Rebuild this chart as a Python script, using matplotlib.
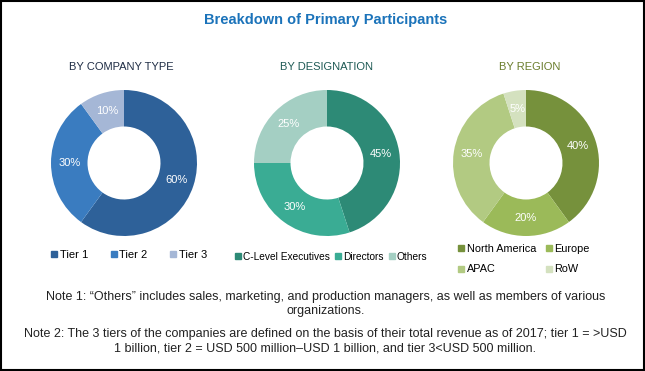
import numpy as np
import matplotlib.pyplot as plt
from matplotlib.lines import Line2D

W, H = 645, 371

# data
company_labels = ['Tier 1', 'Tier 2', 'Tier 3']
company_share = [60, 30, 10]
company_colors = ['#2e6199', '#3a7cc0', '#a5b7d6']

desig_labels = ['C-Level Executives', 'Directors', 'Others']
desig_share = [45, 30, 25]
desig_colors = ['#2d8a76', '#3aac94', '#a4cfc3']

region_labels = ['North America', 'Europe', 'APAC', 'RoW']
region_share = [40, 20, 35, 5]
region_colors = ['#76913c', '#9bba59', '#b2ca82', '#d4e1bf']

plt.rcParams['font.family'] = ['Liberation Sans', 'DejaVu Sans']

fig = plt.figure(figsize=(W / 100, H / 100), dpi=100)
fig.patch.set_facecolor('white')

# border
fig.add_artist(plt.Rectangle((0.001, 0.002), 0.997, 0.995, transform=fig.transFigure,
                             fill=False, edgecolor='black', linewidth=1.5))

fig.text(326 / W, 1 - 20 / H, 'Breakdown of Primary Participants', ha='center', va='center',
         fontsize=10.5, fontweight='bold', color='#1b73ba')


def donut(cx, cy, r, vals, cols, title, tx, tcolor):
    ax = fig.add_axes([(cx - r) / W, 1 - (cy + r) / H, 2 * r / W, 2 * r / H])
    ax.pie(vals, colors=cols, startangle=90, counterclock=False,
           radius=1, wedgeprops=dict(width=0.5, edgecolor='none'))
    ax.set_xlim(-1, 1)
    ax.set_ylim(-1, 1)
    ax.set_aspect('equal')
    ax.axis('off')
    start = 90.0
    for v in vals:
        mid = np.deg2rad(start - v * 3.6 / 2)
        ax.text(0.75 * np.cos(mid), 0.75 * np.sin(mid), f'{v}%', ha='center', va='center',
                color='white', fontsize=8)
        start -= v * 3.6
    fig.text(tx / W, 1 - 67 / H, title, ha='center', va='center', fontsize=8, color=tcolor)


donut(124, 163, 73, company_share, company_colors, 'BY COMPANY TYPE', 121, '#1f2d45')
donut(327, 163, 73, desig_share, desig_colors, 'BY DESIGNATION', 326, '#1e5a55')
donut(526, 163, 73, region_share, region_colors, 'BY REGION', 530, '#6a7d2c')


def handles(labels, cols):
    return [Line2D([], [], marker='s', linestyle='none', markersize=4, color=c, label=l)
            for l, c in zip(labels, cols)]


leg_kw = dict(frameon=False, handletextpad=0.1, borderaxespad=0, borderpad=0,
              handlelength=0.8)
fig.legend(handles=handles(company_labels, company_colors), ncol=3, loc='center left',
           bbox_to_anchor=(50 / W, 1 - 255 / H), columnspacing=1.9, fontsize=8, **leg_kw)
fig.legend(handles=handles(desig_labels, desig_colors), ncol=3, loc='center left',
           bbox_to_anchor=(234 / W, 1 - 257 / H), columnspacing=0.4, fontsize=7.3, **leg_kw)
# column-major fill: rows read North America / Europe, APAC / RoW
reg_h = handles(region_labels, region_colors)
fig.legend(handles=[reg_h[0], reg_h[2], reg_h[1], reg_h[3]], ncol=2, loc='center left',
           bbox_to_anchor=(457 / W, 1 - 259 / H), columnspacing=0.8, labelspacing=1.0,
           fontsize=7.8, **leg_kw)

note_kw = dict(ha='center', va='center', fontsize=9, color='#222222', linespacing=1.25)
fig.text(326 / W, 1 - 304 / H,
         'Note 1: \u201cOthers\u201d includes sales, marketing, and production managers, as well as members of various\norganizations.',
         **note_kw)
fig.text(325 / W, 1 - 341 / H,
         'Note 2: The 3 tiers of the companies are defined on the basis of their total revenue as of 2017; tier 1 = >USD\n'
         '1 billion, tier 2 = USD 500 million\u2013USD 1 billion, and tier 3<USD 500 million.',
         **note_kw)

fig.savefig('out.png', dpi=100, facecolor='white')
